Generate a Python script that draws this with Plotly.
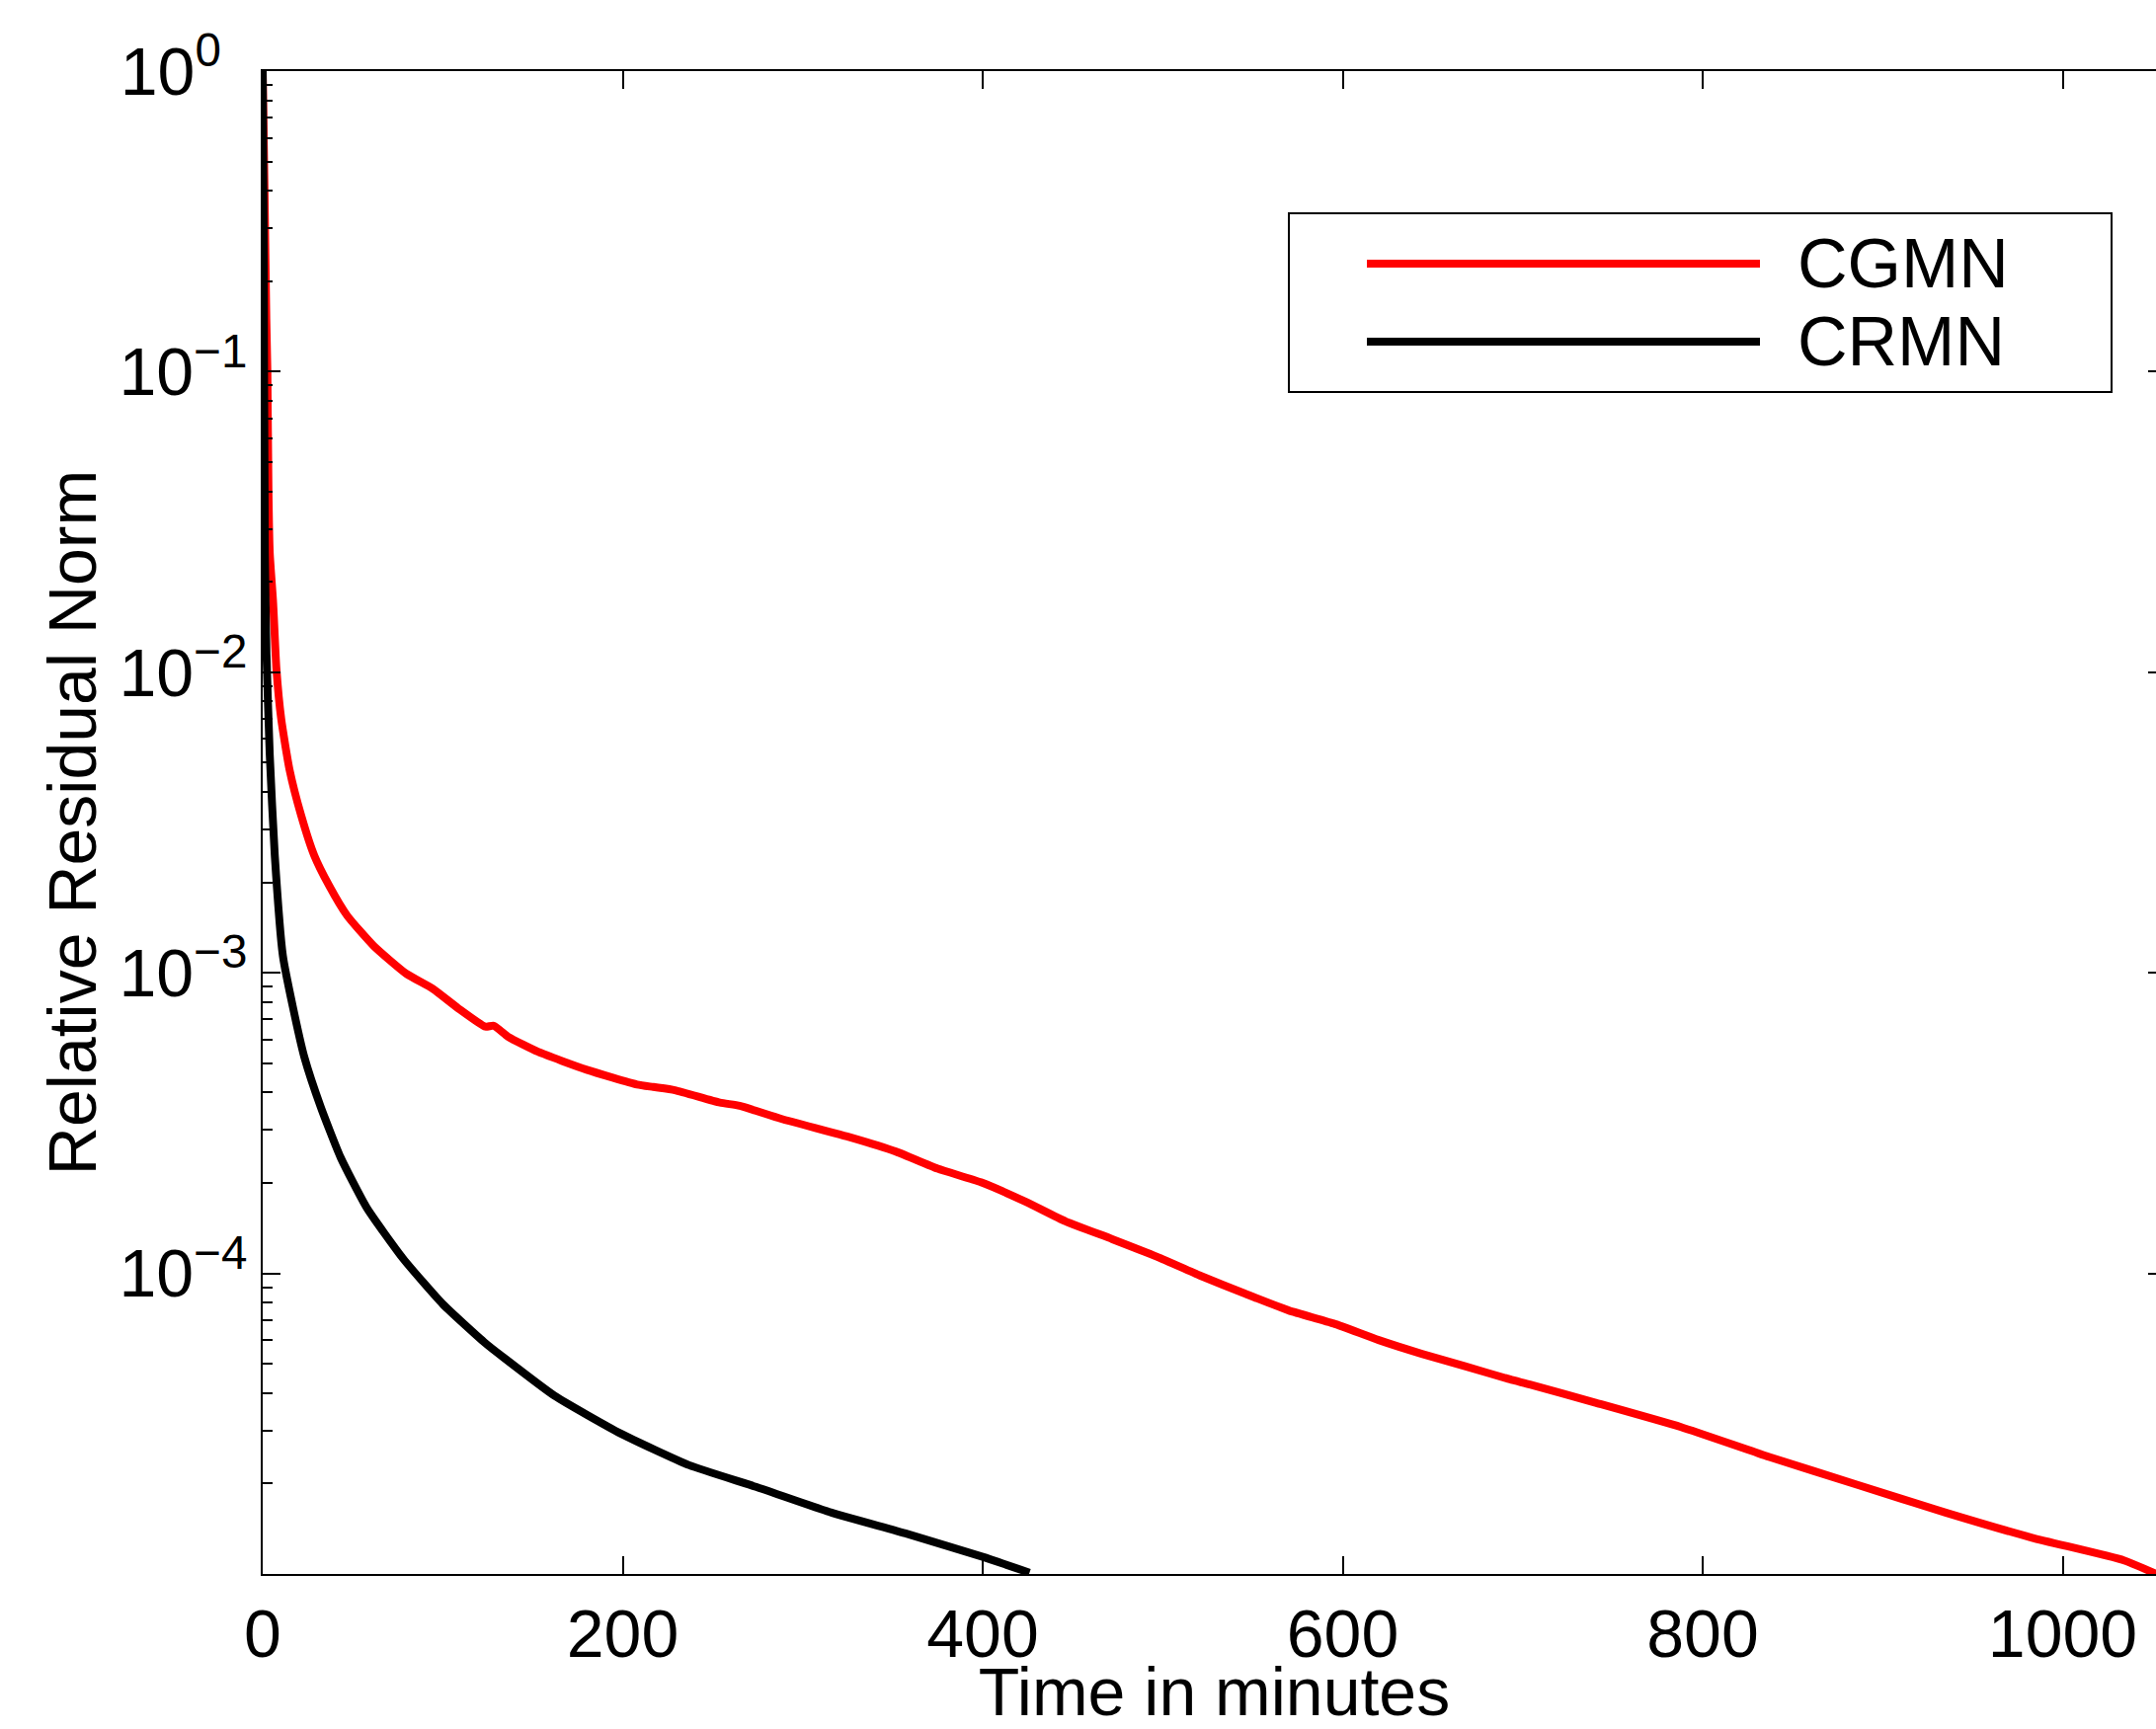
import plotly.graph_objects as go

# residual histories (time in minutes, relative residual norm)
cgmn_time = [0, 1, 2, 2.6, 3.2, 3.9, 5.8, 7.6, 10.3, 14.9, 21.3, 28.6, 36.9, 46.9,
             61.6, 79.8, 94.5, 109, 123.7, 128.3, 136.5, 153, 180, 208, 217, 229,
             254, 265, 288, 327, 352, 375, 399, 424, 446, 472, 497, 521, 546, 570,
             595, 620, 644, 668, 693, 704, 740, 788, 837, 886, 935, 983, 1034, 1052]
cgmn_resid = [1.0, 0.4, 0.15, 0.1, 0.04, 0.025, 0.017, 0.0103, 0.00698, 0.00474,
              0.00335, 0.00246, 0.00195, 0.00155, 0.00123, 0.000993, 0.000885,
              0.000759, 0.000662, 0.000667, 0.000612, 0.000546, 0.000476, 0.000425,
              0.000417, 0.000407, 0.00037, 0.000361, 0.000327, 0.000283, 0.000254,
              0.000223, 0.000201, 0.000173, 0.000149, 0.00013, 0.0001135, 9.82e-5,
              8.55e-5, 7.53e-5, 6.81e-5, 6.0e-5, 5.4e-5, 4.91e-5, 4.44e-5, 4.27e-5,
              3.72e-5, 3.08e-5, 2.45e-5, 1.98e-5, 1.6e-5, 1.32e-5, 1.11e-5, 1.0e-5]

crmn_time = [0, 0.5, 1.2, 2.1, 3.9, 6.7, 11.2, 16.7, 23.1, 32.3, 43.3, 57.9, 78, 100,
             123.7, 134, 162, 199, 237, 274, 316, 358, 400, 426]
crmn_resid = [1.0, 0.3, 0.025, 0.0115, 0.00533, 0.00246, 0.00114, 0.000773, 0.000525,
              0.000357, 0.000243, 0.000165, 0.000112, 7.91e-5, 5.86e-5, 5.24e-5,
              3.92e-5, 2.93e-5, 2.3e-5, 1.95e-5, 1.6e-5, 1.36e-5, 1.14e-5, 1.01e-5]

series_names = ["CGMN", "CRMN"]
series_colors = ["#ff0000", "#000000"]

x_ticks = [0, 200, 400, 600, 800, 1000]
y_ticks = [1, 1e-1, 1e-2, 1e-3, 1e-4]
y_tick_text = ["10<sup>0\u2007</sup>", "10<sup>\u22121</sup>", "10<sup>\u22122</sup>",
               "10<sup>\u22123</sup>", "10<sup>\u22124</sup>"]
y_minor = [m * 10.0 ** k for k in range(-5, 0) for m in range(2, 10)]

FONT = "Liberation Sans, Arial, Helvetica, sans-serif"
FS = 68
# the original is cropped: the right edge of the axes sits just past the page edge
W, H = 2193, 1751
VIEW_W = 2183
ML, MT, MB, MR = 266, 72, 157, 0
PW, PH = W - ML - MR, H - MT - MB
X_MAX = PW / 1.8225


def px(x):
    return (x - ML) / PW


def py(y):
    return 1 - (y - MT) / PH


fig = go.Figure()
for name, t, r, c in zip(series_names, [cgmn_time, crmn_time],
                         [cgmn_resid, crmn_resid], series_colors):
    fig.add_trace(go.Scatter(x=t, y=r, mode="lines", name=name,
                             line=dict(color=c, width=8, shape="spline", smoothing=0.5),
                             showlegend=False))

axis_common = dict(showline=True, linecolor="black", linewidth=2, mirror="ticks",
                   ticks="inside", ticklen=18, tickwidth=2, tickcolor="black",
                   showgrid=False, zeroline=False,
                   tickfont=dict(family=FONT, size=FS, color="black"))

fig.update_xaxes(range=[0, X_MAX], tickvals=x_ticks,
                 title=dict(text="Time in minutes", font=dict(family=FONT, size=FS),
                            standoff=14),
                 **axis_common)
fig.update_yaxes(type="log", range=[-5, 0], tickvals=y_ticks, ticktext=y_tick_text,
                 minor=dict(tickvals=y_minor, ticks="inside", ticklen=10, tickwidth=2,
                            tickcolor="black", showgrid=False),
                 title=dict(text="Relative Residual Norm", font=dict(family=FONT, size=FS),
                            standoff=1),
                 **axis_common)

# legend box drawn to match the original layout
shapes = [
    dict(type="rect", xref="paper", yref="paper", x0=px(1305), x1=px(2138),
         y0=py(397), y1=py(216), line=dict(color="black", width=2), fillcolor="white",
         layer="above"),
]
annotations = []
for name, c, ly in zip(series_names, series_colors, [267, 346]):
    shapes.append(dict(type="line", xref="paper", yref="paper", x0=px(1384), x1=px(1782),
                       y0=py(ly), y1=py(ly), line=dict(color=c, width=8), layer="above"))
    annotations.append(dict(text=name, xref="paper", yref="paper", x=px(1818), y=py(ly),
                            xanchor="left", yanchor="middle", showarrow=False,
                            font=dict(family=FONT, size=FS + 2, color="black")))

fig.update_layout(width=W, height=H, margin=dict(l=ML, r=MR, t=MT, b=MB, autoexpand=False),
                  paper_bgcolor="white", plot_bgcolor="white",
                  font=dict(family=FONT, color="black"),
                  shapes=shapes, annotations=annotations, showlegend=False)

clip = ("var gd=document.getElementById('{plot_id}');"
        "gd.parentElement.style.width='%dpx';"
        "gd.parentElement.style.overflow='hidden';"
        "document.body.style.margin='0';" % VIEW_W)
fig.write_html("out.html", config={"displayModeBar": False}, post_script=clip)
